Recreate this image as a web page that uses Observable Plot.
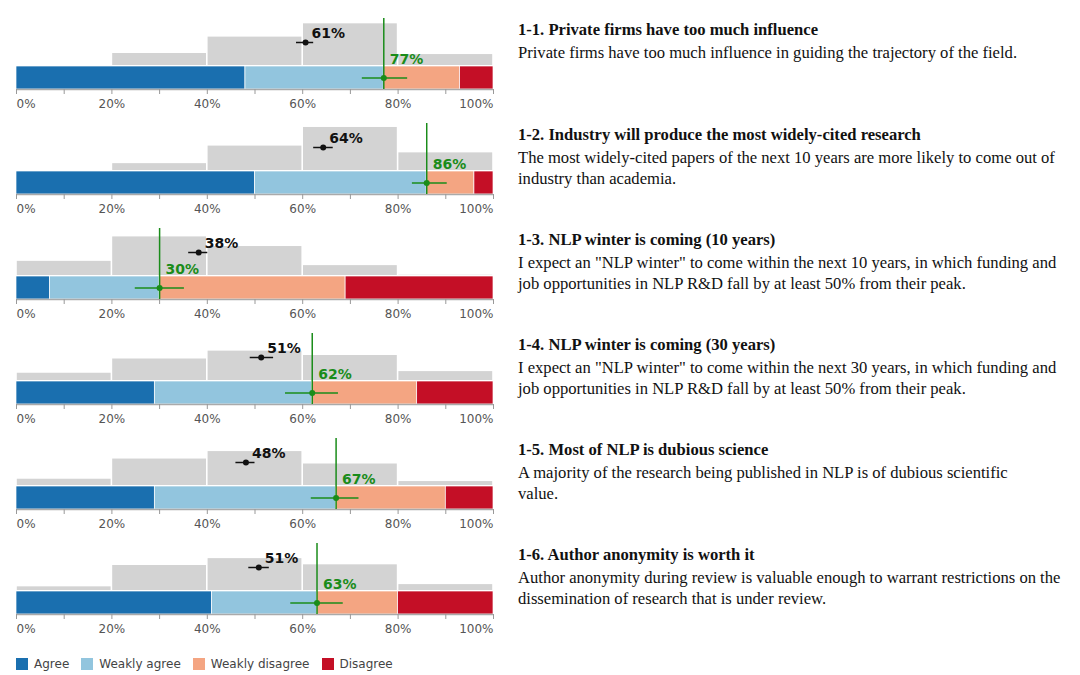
<!DOCTYPE html>
<html>
<head>
<meta charset="utf-8">
<script src="https://cdn.jsdelivr.net/npm/d3@7"></script>
<script src="https://cdn.jsdelivr.net/npm/@observablehq/plot@0.6"></script>
<style>
  body { margin: 0; background: #fff; }
  #wrap { position: relative; width: 1080px; height: 675px; padding-top: 12px; box-sizing: border-box; overflow: hidden; }
  .row { display: flex; height: 105px; }
  .chart { width: 510px; flex: none; }
  .chart svg { display: block; }
  .text { padding-top: 7.5px; padding-left: 8px; font-family: "Liberation Serif", serif; color: #111; }
  .title { font-weight: bold; font-size: 16.6px; line-height: 20px; margin-bottom: 3.5px; white-space: nowrap; }
  .desc { font-size: 16.6px; line-height: 20.5px; white-space: pre; }
</style>
</head>
<body>
<div id="wrap"></div>
<script>
// ---------- data ----------
const titles = [
  "1-1. Private firms have too much influence",
  "1-2. Industry will produce the most widely-cited research",
  "1-3. NLP winter is coming (10 years)",
  "1-4. NLP winter is coming (30 years)",
  "1-5. Most of NLP is dubious science",
  "1-6. Author anonymity is worth it"
];
const descriptions = [
  "Private firms have too much influence in guiding the trajectory of the field.",
  "The most widely-cited papers of the next 10 years are more likely to come out of\nindustry than academia.",
  "I expect an \"NLP winter\" to come within the next 10 years, in which funding and\njob opportunities in NLP R&D fall by at least 50% from their peak.",
  "I expect an \"NLP winter\" to come within the next 30 years, in which funding and\njob opportunities in NLP R&D fall by at least 50% from their peak.",
  "A majority of the research being published in NLP is of dubious scientific\nvalue.",
  "Author anonymity during review is valuable enough to warrant restrictions on the\ndissemination of research that is under review."
];
const answers = ["Agree", "Weakly agree", "Weakly disagree", "Disagree"];
const answerColors = ["#1a6faf", "#92c5de", "#f4a582", "#c40f26"];

const agree          = [48, 50,  7, 29, 29, 41];
const weaklyAgree    = [29, 36, 23, 33, 38, 22];
const weaklyDisagree = [16, 10, 39, 22, 23, 17];
const disagree       = [ 7,  4, 31, 16, 10, 20];

const totalAgreeLo = [72.5, 83.0, 24.9, 56.4, 61.8, 57.5];
const totalAgreeHi = [82.0, 90.3, 35.2, 67.5, 71.8, 68.5];

const predicted   = [60.6, 64.3, 38.2, 51.3, 48.1, 50.8];
const predictedLo = [58.7, 62.3, 36.1, 49.0, 46.0, 48.7];
const predictedHi = [62.3, 66.4, 40.1, 53.9, 50.0, 53.0];

const binStarts = [0, 20, 40, 60, 80];
const binEnds   = [20, 40, 60, 80, 100];
const predictionBins = [
  [0.0, 13.4, 30.3, 44.0, 12.3],
  [1.0,  8.1, 26.2, 45.4, 19.2],
  [15.6, 40.8, 30.9, 11.2, 1.3],
  [8.5, 23.2, 31.3, 26.8, 10.2],
  [7.5, 28.3, 36.0, 23.2, 5.1],
  [4.8, 26.8, 33.9, 27.5, 7.1]
];
const majorTicks = [10, 20, 30, 40, 50, 60, 70, 80, 90];

// ---------- layout ----------
const pxPerPct = 0.97;
const barPx = 23, topPx = 48, predPx = 24;
const barBottom = -barPx / pxPerPct;
const topUnits = topPx / pxPerPct;
const predY = predPx / pxPerPct;
const green = "#1a8c1a";
const font = "DejaVu Sans";
const colorScale = {type: "ordinal", domain: answers, range: answerColors};

const wrap = document.getElementById("wrap");

titles.forEach((title, i) => {
  const agreeTotal = agree[i] + weaklyAgree[i];
  const stackData = answers.map((a, j) => ({
    answer: a,
    v: [agree[i], weaklyAgree[i], weaklyDisagree[i], disagree[i]][j]
  }));
  const bins = binStarts.map((s, j) => ({x1: s, x2: binEnds[j], v: predictionBins[i][j]}));
  const greenCI = [{lo: totalAgreeLo[i], hi: totalAgreeHi[i]}];
  const predCI = [{lo: predictedLo[i], hi: predictedHi[i]}];

  const chart = Plot.plot({
    width: 510,
    height: 105,
    marginLeft: 16,
    marginRight: 17,
    marginTop: 6,
    marginBottom: 28,
    style: {fontFamily: font, fontSize: "12px", background: "white", overflow: "visible"},
    x: {domain: [0, 100]},
    y: {domain: [barBottom, topUnits], axis: null},
    color: colorScale,
    marks: [
      Plot.rectY(bins, {x1: "x1", x2: "x2", y: "v", fill: "#d3d3d3", insetLeft: 0.8, insetRight: 0.8, insetBottom: 1}),
      Plot.rectX(stackData, {x: "v", y1: barBottom, y2: 0, fill: "answer", stroke: "white", strokeWidth: 0.7}),
      Plot.ruleY([barBottom], {stroke: "#aaa", strokeWidth: 1.5}),
      Plot.axisX({ticks: majorTicks, tickFormat: d => d % 20 ? "" : d + "%", tickSize: 5, tickPadding: 5, stroke: "#999", fill: "#555", fontSize: 12}),
      Plot.axisX({ticks: [0], tickFormat: d => d + "%", tickSize: 5, tickPadding: 5, textAnchor: "start", stroke: "#999", fill: "#555", fontSize: 12}),
      Plot.axisX({ticks: [100], tickFormat: d => d + "%", tickSize: 5, tickPadding: 5, textAnchor: "end", stroke: "#999", fill: "#555", fontSize: 12}),
      Plot.ruleY(predCI, {x1: "lo", x2: "hi", y: predY, stroke: "#111", strokeWidth: 1.5}),
      Plot.dot([predicted[i]], {x: d => d, y: predY, r: 3, fill: "#111"}),
      Plot.text([predicted[i]], {x: d => d, y: predY, text: d => Math.round(d) + "%", dx: 6, dy: -5, textAnchor: "start", lineAnchor: "bottom", fill: "#111", fontWeight: "bold", fontSize: 14}),
      Plot.ruleX([agreeTotal], {y1: barBottom, y2: topUnits, stroke: green, strokeWidth: 1.5}),
      Plot.ruleY(greenCI, {x1: "lo", x2: "hi", y: barBottom / 2, stroke: green, strokeWidth: 1.5}),
      Plot.dot([agreeTotal], {x: d => d, y: barBottom / 2, r: 3, fill: green}),
      Plot.text([agreeTotal], {x: d => d, y: 0, text: d => d + "%", dx: 6, dy: -3, textAnchor: "start", lineAnchor: "bottom", fill: green, fontWeight: "bold", fontSize: 14})
    ]
  });

  const row = document.createElement("div");
  row.className = "row";
  const c = document.createElement("div");
  c.className = "chart";
  c.appendChild(chart);
  const t = document.createElement("div");
  t.className = "text";
  const h = document.createElement("div");
  h.className = "title";
  h.textContent = title;
  const d = document.createElement("div");
  d.className = "desc";
  d.textContent = descriptions[i];
  t.appendChild(h);
  t.appendChild(d);
  row.appendChild(c);
  row.appendChild(t);
  wrap.appendChild(row);
});

const legend = Plot.legend({
  color: colorScale,
  swatchSize: 12,
  style: {fontFamily: font, fontSize: "12px", color: "#444", marginLeft: "16px", marginTop: "5px"}
});
wrap.appendChild(legend);
</script>
</body>
</html>
